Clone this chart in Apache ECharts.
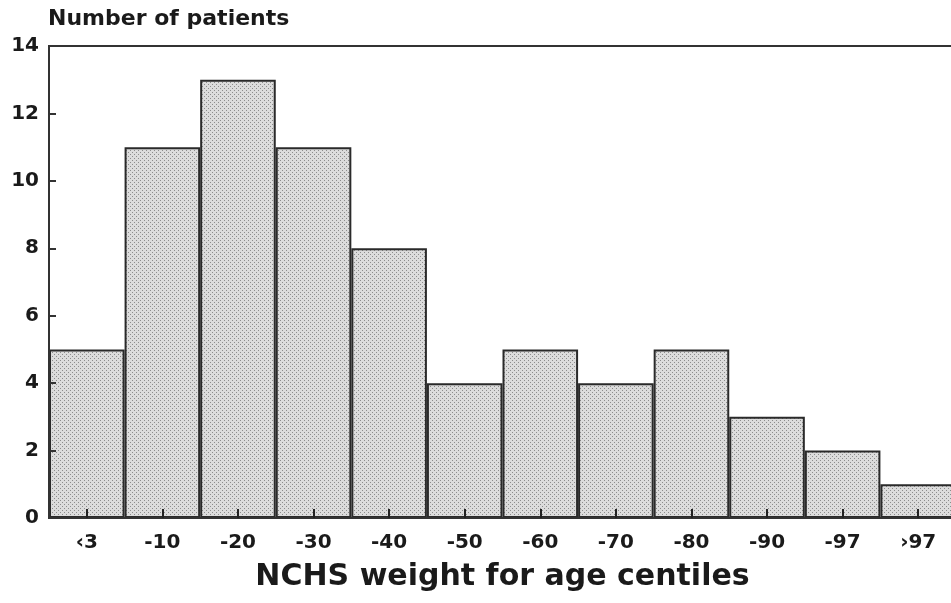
<!DOCTYPE html>
<html>
<head>
<meta charset="utf-8">
<title>NCHS weight for age centiles</title>
<script src="https://cdn.jsdelivr.net/npm/echarts@6/dist/echarts.min.js"></script>
<style>
  html, body { margin: 0; padding: 0; background: #fff; }
  #main { width: 951px; height: 603px; }
</style>
</head>
<body>
<div id="main"></div>
<script>
// data
var centiles = ['‹3', '-10', '-20', '-30', '-40', '-50', '-60', '-70', '-80', '-90', '-97', '›97'];
var patients = [5, 11, 13, 11, 8, 4, 5, 4, 5, 3, 2, 1];
var yTicks = [0, 2, 4, 6, 8, 10, 12, 14];

// stippled fill like the print
function stipple() {
  var c = document.createElement('canvas');
  c.width = 4; c.height = 4;
  var g = c.getContext('2d');
  g.fillStyle = '#dcdcdc';
  g.fillRect(0, 0, 4, 4);
  g.fillStyle = '#8c8c8c';
  g.fillRect(0, 0, 1, 1);
  g.fillRect(2, 2, 1, 1);
  return c;
}

var font = '"DejaVu Sans", Verdana, sans-serif';
var myChart = echarts.init(document.getElementById('main'));
myChart.setOption({
  animation: false,
  graphic: [{
    type: 'text', left: 48, top: 8,
    style: { text: 'Number of patients', font: 'bold 22px ' + font, fill: '#1a1a1a' }
  }],
  grid: {
    left: 49, top: 46, width: 907, height: 472,
    outerBoundsMode: 'none',
    show: true, borderColor: '#333', borderWidth: 2
  },
  xAxis: {
    type: 'category',
    data: centiles,
    zlevel: 1,
    z: 10,
    name: 'NCHS weight for age centiles',
    nameLocation: 'middle',
    nameGap: 44,
    nameTextStyle: { fontFamily: font, fontWeight: 'bold', fontSize: 30, color: '#1a1a1a', verticalAlign: 'top' },
    axisLine: { lineStyle: { color: '#333', width: 2 } },
    axisTick: { show: true, inside: true, alignWithLabel: true, length: 9, lineStyle: { color: '#222', width: 2 } },
    axisLabel: { fontFamily: font, fontWeight: 'bold', fontSize: 20, color: '#1a1a1a', margin: 15 }
  },
  yAxis: {
    type: 'value',
    min: yTicks[0],
    max: yTicks[yTicks.length - 1],
    interval: 2,
    z: 10,
    splitLine: { show: false },
    axisLine: { show: true, lineStyle: { color: '#333', width: 2 } },
    axisTick: { show: true, inside: true, length: 7, lineStyle: { color: '#333', width: 2 } },
    axisLabel: { fontFamily: font, fontWeight: 'bold', fontSize: 20, color: '#1a1a1a', margin: 10 }
  },
  series: [{
    type: 'bar',
    data: patients,
    barCategoryGap: 0,
    itemStyle: {
      color: { image: stipple(), repeat: 'repeat' },
      borderColor: '#2a2a2a',
      borderWidth: 2
    }
  }]
});
</script>
</body>
</html>
